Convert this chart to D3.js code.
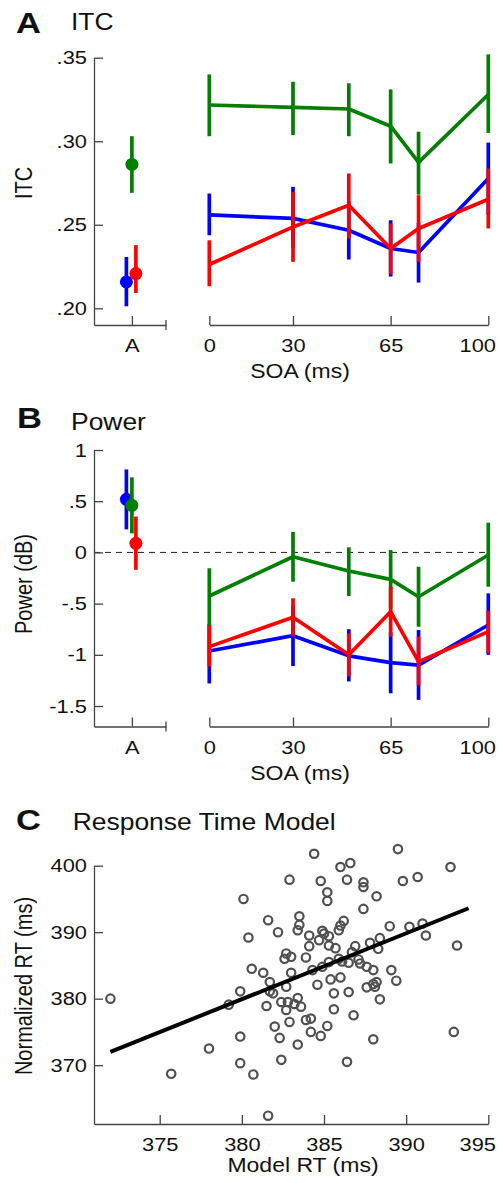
<!DOCTYPE html>
<html><head><meta charset="utf-8">
<script src="https://cdn.jsdelivr.net/npm/d3@7"></script>
<style>html,body{margin:0;padding:0;background:#fff;}svg{display:block;}</style>
</head><body>
<script>
// ---------------- DATA ----------------
const soa = [0, 30, 50, 65, 75, 100];
const soaTicks = [0, 30, 65, 100];
const condLabel = "A";

const itcGreen   = [0.3217, 0.3203, 0.3193, 0.3090, 0.2873, 0.3280];
const itcGreenLo = [0.3030, 0.3037, 0.3030, 0.2867, 0.2680, 0.3050];
const itcGreenHi = [0.3400, 0.3356, 0.3347, 0.3310, 0.3057, 0.3520];
const itcBlue    = [0.2559, 0.2538, 0.2467, 0.2358, 0.2334, 0.2777];
const itcBlueLo  = [0.2437, 0.2360, 0.2292, 0.2190, 0.2154, 0.2560];
const itcBlueHi  = [0.2687, 0.2727, 0.2640, 0.2527, 0.2510, 0.2992];
const itcRed     = [0.2262, 0.2487, 0.2617, 0.2358, 0.2478, 0.2653];
const itcRedLo   = [0.2132, 0.2278, 0.2418, 0.2204, 0.2278, 0.2478];
const itcRedHi   = [0.2407, 0.2697, 0.2807, 0.2508, 0.2677, 0.2837];
// A condition: [mean, lo, hi] for blue, green, red
const itcCondBlue  = [0.2158, 0.2012, 0.2307];
const itcCondGreen = [0.2861, 0.2691, 0.3030];
const itcCondRed   = [0.2208, 0.2092, 0.2378];
const itcTicks = [0.20, 0.25, 0.30, 0.35];
const itcTickLabels = [".20", ".25", ".30", ".35"];

const powGreen   = [-0.426, -0.042, -0.182, -0.263, -0.433, -0.025];
const powGreenLo = [-0.710, -0.286, -0.426, -0.550, -0.726, -0.335];
const powGreenHi = [-0.155,  0.200,  0.050,  0.023, -0.140,  0.290];
const powBlue    = [-0.963, -0.813, -1.010, -1.077, -1.100, -0.709];
const powBlueLo  = [-1.280, -1.110, -1.260, -1.376, -1.440, -1.000];
const powBlueHi  = [-0.700, -0.520, -0.750, -0.780, -0.758, -0.400];
const powRed     = [-0.920, -0.634, -1.000, -0.579, -1.067, -0.774];
const powRedLo   = [-1.116, -0.820, -1.210, -0.823, -1.300, -0.985];
const powRedHi   = [-0.710, -0.448, -0.790, -0.335, -0.823, -0.570];
const powCondBlue  = [0.518, 0.225, 0.810];
const powCondGreen = [0.460, 0.186, 0.733];
const powCondRed   = [0.089, -0.170, 0.350];
const powTicks = [1, 0.5, 0, -0.5, -1, -1.5];
const powTickLabels = ["1", ".5", "0", "-.5", "-1", "-1.5"];

const rtModel = [372.0, 375.7, 378.0, 379.2, 379.9, 379.9, 379.9, 380.1, 380.4, 380.6,
  380.7, 384.4, 389.5, 392.7, 386.0, 386.6, 382.9, 384.8, 386.4, 387.4,
  387.4, 389.8, 390.7, 385.2, 385.2, 388.2, 387.4, 383.5, 381.6, 382.2,
  383.5, 383.4, 384.1, 384.9, 385.0, 385.3, 385.9, 386.0, 386.2, 389.0,
  390.2, 391.0, 391.2, 393.1, 384.1, 384.7, 385.3, 385.7, 386.9, 387.8,
  388.4, 388.3, 382.7, 383.0, 382.6, 383.9, 385.3, 385.9, 386.1, 386.5,
  386.7, 387.1, 387.2, 387.6, 388.0, 389.1, 389.4, 381.3, 381.7, 383.0,
  384.3, 384.9, 384.6, 385.4, 386.0, 381.7, 382.7, 381.9, 385.6, 386.5,
  387.6, 388.0, 388.2, 388.1, 388.4, 381.5, 382.4, 382.7, 382.8, 383.2,
  383.4, 383.6, 385.6, 386.8, 382.9, 383.9, 384.2, 385.2, 382.0, 384.2,
  384.8, 382.3, 383.4, 388.0, 392.9, 382.4, 386.4, 381.6];
const rtNorm = [380.0, 368.7, 372.5, 379.1, 381.1, 374.3, 370.3, 395.0, 389.2, 384.5,
  368.6, 401.8, 402.5, 399.8, 399.8, 400.4, 397.9, 397.7, 397.9, 397.5,
  396.8, 397.7, 398.3, 396.0, 394.7, 395.4, 393.5, 392.4, 391.8, 390.0,
  391.1, 390.3, 389.5, 390.2, 389.8, 389.4, 390.3, 391.0, 391.7, 390.9,
  390.8, 391.3, 389.5, 388.0, 387.9, 388.8, 388.0, 387.6, 387.9, 388.4,
  389.1, 387.5, 386.8, 386.3, 386.0, 386.2, 385.5, 386.0, 385.6, 385.4,
  387.0, 385.9, 385.3, 384.8, 384.3, 384.3, 382.7, 383.9, 382.5, 383.9,
  384.3, 384.8, 382.1, 382.9, 383.2, 381.1, 381.8, 380.8, 380.8, 381.0,
  381.7, 382.2, 382.5, 381.8, 379.9, 378.9, 379.5, 378.3, 379.5, 379.2,
  380.1, 378.8, 378.4, 377.5, 376.5, 376.8, 377.0, 375.9, 375.8, 375.0,
  374.4, 374.1, 373.1, 373.9, 375.0, 370.8, 370.5, 362.4];
const fitX = [372.0, 393.8];
const fitY = [372.0, 393.6];
const rtXTicks = [375, 380, 385, 390, 395];
const rtYTicks = [370, 380, 390, 400];

// ---------------- STYLE ----------------
const W = 503, H = 1183;
const FONT = "'Liberation Sans', Arial, Helvetica, sans-serif";
const SX = 1.15;             // horizontal stretch of the reference lettering
const AXIS = "#444";
const COL = {blue: "#0000ff", green: "#008000", red: "#ff0000"};
const LW = 3.7;
const DODGE = {blue: -5.5, green: 0, red: 4};
const TICKFS = 19;
const RIGHT_EDGE = 496;

const svg = d3.select("body").append("svg").attr("width", W).attr("height", H)
  .style("font-family", FONT);

function label(x, y, s, size, opt = {}) {
  return svg.append("text")
    .attr("transform", `translate(${x},${y}) scale(${SX},1)` + (opt.rot ? " rotate(-90)" : ""))
    .attr("font-size", size).attr("fill", "#111")
    .attr("text-anchor", opt.anchor || "start")
    .attr("font-weight", opt.bold ? "bold" : "normal")
    .text(s);
}

function styleAxis(g, kind) {
  g.selectAll("path.domain").attr("stroke", AXIS).attr("stroke-width", 1.3);
  g.selectAll(".tick line").attr("stroke", AXIS).attr("stroke-width", 1.3);
  g.selectAll(".tick text").attr("fill", "#111").attr("font-size", TICKFS).attr("font-family", FONT);
  if (kind === "left") {
    g.selectAll(".tick text").attr("x", 0).attr("text-anchor", "end")
      .attr("transform", `translate(-7,0) scale(${SX},1)`);
  } else {
    g.selectAll(".tick text").attr("y", 0).attr("dy", 0)
      .attr("transform", `translate(0,27) scale(${SX},1)`);
    // keep the last label inside the picture (as in the reference)
    g.selectAll(".tick").each(function() {
      const tr = d3.select(this).attr("transform");
      const x = +tr.match(/translate\(([-\d.]+)/)[1];
      const t = d3.select(this).select("text");
      const w = t.node().getComputedTextLength() * SX;
      if (x + w / 2 > RIGHT_EDGE) {
        t.attr("text-anchor", "end").attr("transform", `translate(${RIGHT_EDGE - x},27) scale(${SX},1)`);
      }
    });
  }
}

// shared x scales
const xCond = d3.scaleLinear().domain([0.5, 1.45]).range([94, 166]);
const xSOA = d3.scaleLinear().domain([0, 100]).range([209.3, 488.3]);

function seriesPanel(y, yTicks, yTickLabels, series, conds, axisY) {
  const ga = svg.append("g").attr("transform", "translate(94,0)")
    .call(d3.axisLeft(y).tickValues(yTicks).tickFormat((d, i) => yTickLabels[i])
      .tickSize(-9).tickSizeOuter(0));
  styleAxis(ga, "left");
  const gc = svg.append("g").attr("transform", `translate(0,${axisY})`)
    .call(d3.axisBottom(xCond).tickValues([1]).tickFormat(() => condLabel)
      .tickSize(-9).tickSizeOuter(0));
  styleAxis(gc, "bottom");
  svg.append("line").attr("x1", xCond(1.45)).attr("x2", xCond(1.45))
    .attr("y1", axisY - 5).attr("y2", axisY + 5).attr("stroke", AXIS).attr("stroke-width", 1.3);
  const gs = svg.append("g").attr("transform", `translate(0,${axisY})`)
    .call(d3.axisBottom(xSOA).tickValues(soaTicks).tickFormat(d3.format("d"))
      .tickSize(-9).tickSizeOuter(0));
  styleAxis(gs, "bottom");
  label(300, axisY + 53, "SOA (ms)", 20, {anchor: "middle"});

  const line = d3.line().x(d => xSOA(d[0])).y(d => y(d[1]));
  series.forEach(s => {
    const pts = soa.map((v, i) => [v, s.m[i], s.lo[i], s.hi[i]]);
    svg.append("path").datum(pts).attr("d", line).attr("fill", "none")
      .attr("stroke", s.c).attr("stroke-width", LW).attr("stroke-linejoin", "round");
    svg.append("g").selectAll("line").data(pts).join("line")
      .attr("x1", d => xSOA(d[0])).attr("x2", d => xSOA(d[0]))
      .attr("y1", d => y(d[2])).attr("y2", d => y(d[3]))
      .attr("stroke", s.c).attr("stroke-width", LW);
  });
  conds.forEach(c => {
    const cx = xCond(1) + c.dx;
    svg.append("line").attr("x1", cx).attr("x2", cx)
      .attr("y1", y(c.v[1])).attr("y2", y(c.v[2]))
      .attr("stroke", c.c).attr("stroke-width", LW);
    svg.append("circle").attr("cx", cx).attr("cy", y(c.v[0])).attr("r", 6.5).attr("fill", c.c);
  });
}

// ---------------- PANEL A ----------------
label(16, 33, "A", 30, {bold: true});
label(71, 29.5, "ITC", 23);
label(32, 183, "ITC", 20, {rot: true, anchor: "middle"});
const yITC = d3.scaleLinear().domain([0.19, 0.35]).range([325, 57.7]);
seriesPanel(yITC, itcTicks, itcTickLabels,
  [{m: itcBlue, lo: itcBlueLo, hi: itcBlueHi, c: COL.blue},
   {m: itcGreen, lo: itcGreenLo, hi: itcGreenHi, c: COL.green},
   {m: itcRed, lo: itcRedLo, hi: itcRedHi, c: COL.red}],
  [{v: itcCondBlue, c: COL.blue, dx: DODGE.blue},
   {v: itcCondGreen, c: COL.green, dx: DODGE.green},
   {v: itcCondRed, c: COL.red, dx: DODGE.red}], 325);

// ---------------- PANEL B ----------------
label(17, 428, "B", 30, {bold: true});
label(71, 430, "Power", 23);
label(32, 584, "Power (dB)", 20, {rot: true, anchor: "middle"});
const yPow = d3.scaleLinear().domain([-1.7, 1]).range([726.5, 450]);
svg.append("line").attr("x1", xCond(0.5)).attr("x2", xSOA(100))
  .attr("y1", yPow(0)).attr("y2", yPow(0))
  .attr("stroke", "#222").attr("stroke-width", 1).attr("stroke-dasharray", "6,5");
seriesPanel(yPow, powTicks, powTickLabels,
  [{m: powBlue, lo: powBlueLo, hi: powBlueHi, c: COL.blue},
   {m: powGreen, lo: powGreenLo, hi: powGreenHi, c: COL.green},
   {m: powRed, lo: powRedLo, hi: powRedHi, c: COL.red}],
  [{v: powCondBlue, c: COL.blue, dx: DODGE.blue},
   {v: powCondGreen, c: COL.green, dx: DODGE.green},
   {v: powCondRed, c: COL.red, dx: DODGE.red}], 726.5);

// ---------------- PANEL C ----------------
label(16, 830, "C", 30, {bold: true});
label(72.7, 829.5, "Response Time Model", 23);
label(32, 986, "Normalized RT (ms)", 20, {rot: true, anchor: "middle"});
const xRT = d3.scaleLinear().domain([371, 395]).range([94, 488.3]);
const yRT = d3.scaleLinear().domain([361.15, 400]).range([1124, 865.7]);
const gcy = svg.append("g").attr("transform", "translate(94,0)")
  .call(d3.axisLeft(yRT).tickValues(rtYTicks).tickFormat(d3.format("d")).tickSize(-9).tickSizeOuter(0));
styleAxis(gcy, "left");
const gcx = svg.append("g").attr("transform", "translate(0,1124)")
  .call(d3.axisBottom(xRT).tickValues(rtXTicks).tickFormat(d3.format("d")).tickSize(-9).tickSizeOuter(0));
styleAxis(gcx, "bottom");
label(303, 1172, "Model RT (ms)", 20, {anchor: "middle"});

svg.append("g").selectAll("circle").data(rtModel.map((v, i) => [v, rtNorm[i]])).join("circle")
  .attr("cx", d => xRT(d[0])).attr("cy", d => yRT(d[1])).attr("r", 4.2)
  .attr("fill", "none").attr("stroke", "#505050").attr("stroke-width", 2.2);
svg.append("line").attr("x1", xRT(fitX[0])).attr("y1", yRT(fitY[0]))
  .attr("x2", xRT(fitX[1])).attr("y2", yRT(fitY[1]))
  .attr("stroke", "#000").attr("stroke-width", 4);
</script>
</body></html>
